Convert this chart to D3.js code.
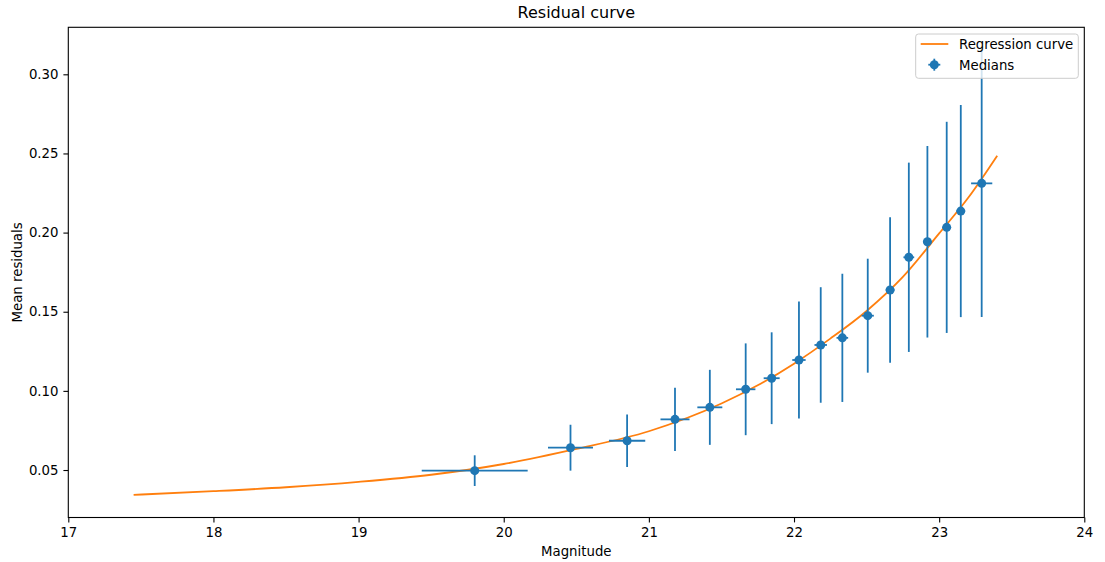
<!DOCTYPE html>
<html>
<head>
<meta charset="utf-8">
<script src="https://cdn.jsdelivr.net/npm/d3@7/dist/d3.min.js"></script>
<style>
  html, body { margin: 0; padding: 0; background: #fff; }
  svg { display: block; font-family: "DejaVu Sans", sans-serif; }
</style>
</head>
<body>
<svg id="chart" width="1105" height="562"></svg>
<script>
// Binned medians: magnitude, mean residual, and their half-widths
const magnitudes = [19.80, 20.46, 20.85, 21.18, 21.42, 21.667, 21.846, 22.034, 22.184, 22.333, 22.508, 22.662, 22.791, 22.919, 23.052, 23.149, 23.293];
const residuals  = [0.0496, 0.0641, 0.0685, 0.0820, 0.0896, 0.1010, 0.1080, 0.1195, 0.1290, 0.1335, 0.1475, 0.1637, 0.1844, 0.1942, 0.2033, 0.2136, 0.2311];
const magErr     = [0.365, 0.155, 0.125, 0.100, 0.086, 0.067, 0.055, 0.046, 0.043, 0.040, 0.042, 0.030, 0.037, 0.030, 0.030, 0.030, 0.073];
const residErr   = [0.0097, 0.0145, 0.0166, 0.0200, 0.0237, 0.0290, 0.0290, 0.0370, 0.0365, 0.0405, 0.0360, 0.0460, 0.0598, 0.0605, 0.0667, 0.0670, 0.0845];

// Fitted regression curve, sampled along magnitude
const curveMag   = [17.45, 18.0, 18.5, 19.0, 19.5, 20.0, 20.5, 21.0, 21.5, 21.75, 22.0, 22.25, 22.5, 22.75, 23.0, 23.2, 23.4];
const curveResid = [0.0343, 0.0366, 0.0391, 0.0425, 0.0470, 0.0538, 0.0633, 0.0745, 0.0920, 0.1035, 0.1172, 0.1330, 0.1505, 0.1720, 0.1995, 0.2220, 0.2486];

const xTicks = [17, 18, 19, 20, 21, 22, 23, 24];
const yTicks = [0.05, 0.10, 0.15, 0.20, 0.25, 0.30];

const blue = "#1f77b4", orange = "#ff7f0e";
const fontSize = 13.3;
const lineW = 1.8;

const svg = d3.select("#chart");
const plotLeft = 68.3, plotRight = 1084.3, plotTop = 27.3, plotBottom = 517.5;

const x = d3.scaleLinear().domain([17, 24]).range([plotLeft, plotRight]);
const y = d3.scaleLinear().domain([0.0200, 0.3297]).range([plotBottom, plotTop]);

// Regression curve
const line = d3.line()
  .x((d, i) => x(curveMag[i]))
  .y((d, i) => y(curveResid[i]))
  .curve(d3.curveMonotoneX);

const plot = svg.append("g");
plot.append("path")
  .datum(curveMag)
  .attr("d", line)
  .attr("fill", "none")
  .attr("stroke", orange)
  .attr("stroke-width", lineW);

// Legend frame (drawn beneath the error bars)
const legend = svg.append("g");
legend.append("rect")
  .attr("x", 915.7).attr("y", 34)
  .attr("width", 162.6).attr("height", 44.3)
  .attr("rx", 2.8).attr("ry", 2.8)
  .attr("fill", "#fff").attr("fill-opacity", 0.8)
  .attr("stroke", "#cccccc").attr("stroke-width", 1);

// Error bars
const pts = magnitudes.map((m, i) => ({ m, r: residuals[i], dm: magErr[i], dr: residErr[i] }));
const bars = plot.append("g").attr("stroke", blue).attr("stroke-width", lineW);
bars.selectAll("line.h").data(pts).join("line").attr("class", "h")
  .attr("x1", d => x(d.m - d.dm)).attr("x2", d => x(d.m + d.dm))
  .attr("y1", d => y(d.r)).attr("y2", d => y(d.r));
bars.selectAll("line.v").data(pts).join("line").attr("class", "v")
  .attr("x1", d => x(d.m)).attr("x2", d => x(d.m))
  .attr("y1", d => y(d.r - d.dr)).attr("y2", d => y(d.r + d.dr));
plot.append("g").selectAll("circle").data(pts).join("circle")
  .attr("cx", d => x(d.m)).attr("cy", d => y(d.r))
  .attr("r", 4.5).attr("fill", blue);

// Legend entries
legend.append("line")
  .attr("x1", 920.7).attr("x2", 948.3).attr("y1", 44).attr("y2", 44)
  .attr("stroke", orange).attr("stroke-width", lineW);
legend.append("text").attr("x", 959).attr("y", 49)
  .attr("font-size", fontSize).attr("fill", "#000").text("Regression curve");
const lm = legend.append("g").attr("stroke", blue).attr("stroke-width", lineW);
lm.append("line").attr("x1", 928.3).attr("x2", 940.3).attr("y1", 64.7).attr("y2", 64.7);
lm.append("line").attr("x1", 934.3).attr("x2", 934.3).attr("y1", 58.7).attr("y2", 70.7);
legend.append("circle").attr("cx", 934.3).attr("cy", 64.7).attr("r", 4.5).attr("fill", blue);
legend.append("text").attr("x", 959).attr("y", 69.5)
  .attr("font-size", fontSize).attr("fill", "#000").text("Medians");

// Axes
const xAxis = d3.axisBottom(x).tickValues(xTicks).tickFormat(d3.format("d"))
  .tickSize(4.9).tickPadding(4.9);
const yAxis = d3.axisLeft(y).tickValues(yTicks).tickFormat(d3.format(".2f"))
  .tickSize(4.9).tickPadding(4.9);

const gx = svg.append("g").attr("transform", `translate(0,${plotBottom})`).call(xAxis);
const gy = svg.append("g").attr("transform", `translate(${plotLeft},0)`).call(yAxis);
[gx, gy].forEach(g => {
  g.select(".domain").remove();
  g.selectAll(".tick line").attr("stroke", "#000").attr("stroke-width", 1.1);
  g.selectAll(".tick text").attr("font-size", fontSize).attr("fill", "#000")
    .attr("font-family", "DejaVu Sans");
});

// Frame
svg.append("rect")
  .attr("x", plotLeft).attr("y", plotTop)
  .attr("width", plotRight - plotLeft).attr("height", plotBottom - plotTop)
  .attr("fill", "none").attr("stroke", "#000").attr("stroke-width", 1.1);

// Titles
svg.append("text").attr("x", (plotLeft + plotRight) / 2).attr("y", 18)
  .attr("text-anchor", "middle").attr("font-size", 16.0).attr("fill", "#000")
  .text("Residual curve");
svg.append("text").attr("x", (plotLeft + plotRight) / 2).attr("y", 556)
  .attr("text-anchor", "middle").attr("font-size", fontSize).attr("fill", "#000")
  .text("Magnitude");
svg.append("text")
  .attr("transform", `translate(21.5,${(plotTop + plotBottom) / 2}) rotate(-90)`)
  .attr("text-anchor", "middle").attr("font-size", fontSize).attr("fill", "#000")
  .text("Mean residuals");
</script>
</body>
</html>
